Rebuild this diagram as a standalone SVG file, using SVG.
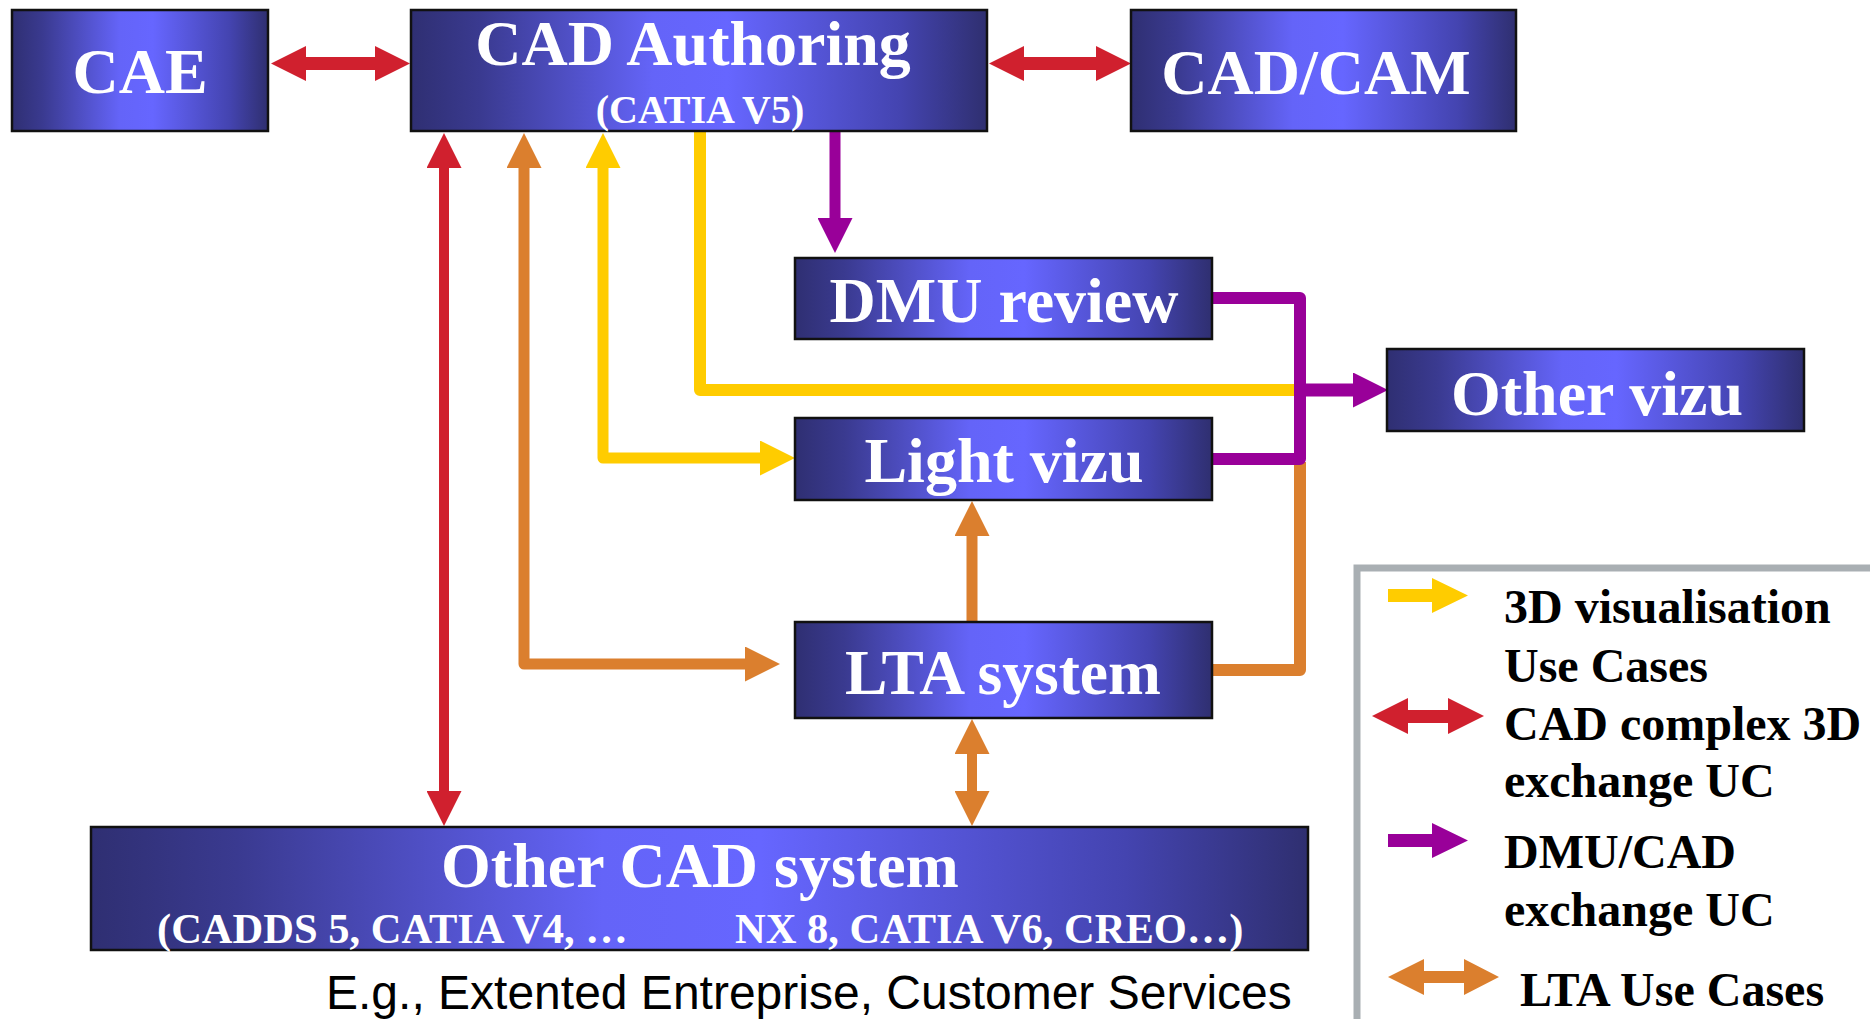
<svg xmlns="http://www.w3.org/2000/svg" width="1870" height="1019" viewBox="0 0 1870 1019">
<defs>
<linearGradient id="boxg" x1="0" y1="0" x2="1" y2="0">
<stop offset="0" stop-color="#2f2f72"/>
<stop offset="0.12" stop-color="#3a3a90"/>
<stop offset="0.42" stop-color="#6464f8"/>
<stop offset="0.55" stop-color="#6666ff"/>
<stop offset="0.85" stop-color="#4444b0"/>
<stop offset="1" stop-color="#2f2f70"/>
</linearGradient>
<marker id="hr" markerUnits="userSpaceOnUse" markerWidth="35" markerHeight="35" viewBox="0 0 35 35" refX="0" refY="17.5" orient="auto-start-reverse"><path d="M0,0 L35,17.5 L0,35 z" fill="#d0202e"/></marker>
<marker id="ho" markerUnits="userSpaceOnUse" markerWidth="35" markerHeight="35" viewBox="0 0 35 35" refX="0" refY="17.5" orient="auto-start-reverse"><path d="M0,0 L35,17.5 L0,35 z" fill="#db7f2e"/></marker>
<marker id="hy" markerUnits="userSpaceOnUse" markerWidth="35" markerHeight="35" viewBox="0 0 35 35" refX="0" refY="17.5" orient="auto-start-reverse"><path d="M0,0 L35,17.5 L0,35 z" fill="#ffcc00"/></marker>
<marker id="hp" markerUnits="userSpaceOnUse" markerWidth="35" markerHeight="35" viewBox="0 0 35 35" refX="0" refY="17.5" orient="auto-start-reverse"><path d="M0,0 L35,17.5 L0,35 z" fill="#990099"/></marker>
</defs>
<style>
.box{fill:url(#boxg);stroke:#111;stroke-width:2.5}
.t{font-family:"Liberation Serif","Times New Roman",serif;font-weight:bold;fill:#fff;text-anchor:middle}
.ts{font-family:"Liberation Serif","Times New Roman",serif;font-weight:bold;fill:#fff;font-size:42.5px}
.lg{font-family:"Liberation Serif","Times New Roman",serif;font-weight:bold;fill:#000;font-size:48px}
.c{fill:none;stroke-linejoin:round}
.red{stroke:#d0202e}
.or{stroke:#db7f2e}
.ye{stroke:#ffcc00}
.pu{stroke:#990099}
</style>
<rect width="1870" height="1019" fill="#fff"/>

<g id="connectors">
<line class="c red" x1="306" y1="63.5" x2="375" y2="63.5" stroke-width="13" marker-start="url(#hr)" marker-end="url(#hr)"/>
<line class="c red" x1="1024" y1="63.5" x2="1096" y2="63.5" stroke-width="13" marker-start="url(#hr)" marker-end="url(#hr)"/>
<line class="c red" x1="444" y1="168" x2="444" y2="791" stroke-width="10" marker-start="url(#hr)" marker-end="url(#hr)"/>
<path class="c or" d="M524,168 V664 H745" stroke-width="11" marker-start="url(#ho)" marker-end="url(#ho)"/>
<path class="c ye" d="M603,168 V458 H760" stroke-width="11" marker-start="url(#hy)" marker-end="url(#hy)"/>
<path class="c ye" d="M700,131 V390 H1296" stroke-width="12" stroke-linejoin="miter"/>
<line class="c pu" x1="835" y1="131" x2="835" y2="218" stroke-width="11" marker-end="url(#hp)"/>
<path class="c or" d="M1212,670 H1300 V462" stroke-width="12" stroke-linejoin="miter"/>
<path class="c pu" d="M1212,298 H1300 V459 H1212" stroke-width="12" stroke-linejoin="miter"/>
<line class="c pu" x1="1300" y1="390" x2="1353" y2="390" stroke-width="13" marker-end="url(#hp)"/>
<line class="c or" x1="972" y1="622" x2="972" y2="536" stroke-width="11" marker-end="url(#ho)"/>
<line class="c or" x1="972" y1="754" x2="972" y2="791" stroke-width="10" marker-start="url(#ho)" marker-end="url(#ho)"/>
</g>

<g id="cae">
<rect class="box" x="12" y="10" width="256" height="121"/>
<text class="t" x="140" y="93" font-size="64">CAE</text>
</g>
<g id="cad-authoring">
<rect class="box" x="411" y="10" width="576" height="121"/>
<text class="t" x="693" y="65" font-size="64">CAD Authoring</text>
<text class="t" x="700" y="123" font-size="40">(CATIA V5)</text>
</g>
<g id="cad-cam">
<rect class="box" x="1131" y="10" width="385" height="121"/>
<text class="t" x="1316" y="94" font-size="64">CAD/CAM</text>
</g>
<g id="dmu-review">
<rect class="box" x="795" y="258" width="417" height="81"/>
<text class="t" x="1004" y="322" font-size="64">DMU review</text>
</g>
<g id="other-vizu">
<rect class="box" x="1387" y="349" width="417" height="82"/>
<text class="t" x="1597" y="415" font-size="64">Other vizu</text>
</g>
<g id="light-vizu">
<rect class="box" x="795" y="418" width="417" height="82"/>
<text class="t" x="1004" y="482" font-size="64">Light vizu</text>
</g>
<g id="lta-system">
<rect class="box" x="795" y="622" width="417" height="96"/>
<text class="t" x="1003" y="694" font-size="63.5">LTA system</text>
</g>
<g id="other-cad">
<rect class="box" x="91" y="827" width="1217" height="123"/>
<text class="t" x="700" y="887" font-size="64">Other CAD system</text>
<text class="ts" x="157" y="943">(CADDS 5, CATIA V4, …</text>
<text class="ts" x="735" y="943">NX 8, CATIA V6, CREO…)</text>
</g>
<g id="caption">
<text x="326" y="1009" font-family="'Liberation Sans',Arial,sans-serif" font-size="48" fill="#000">E.g., Extented Entreprise, Customer Services</text>
</g>

<g id="legend">
<path d="M1357,1019 V568 H1870" fill="none" stroke="#a9afb3" stroke-width="7"/>
<polygon points="1388,589 1432,589 1432,578 1468,595.5 1432,613 1432,602 1388,602" fill="#ffcc00"/>
<text class="lg" x="1504" y="623">3D visualisation</text>
<text class="lg" x="1504" y="682">Use Cases</text>
<polygon points="1372,716 1408,698 1408,710 1448,710 1448,698 1484,716 1448,734 1448,723 1408,723 1408,734" fill="#d0202e"/>
<text class="lg" x="1504" y="740">CAD complex 3D</text>
<text class="lg" x="1504" y="797">exchange UC</text>
<polygon points="1388,834 1432,834 1432,823 1468,840.5 1432,858 1432,847 1388,847" fill="#990099"/>
<text class="lg" x="1504" y="868">DMU/CAD</text>
<text class="lg" x="1504" y="926">exchange UC</text>
<polygon points="1388,977 1424,959 1424,971 1464,971 1464,959 1499,977 1464,995 1464,983 1424,983 1424,995" fill="#db7f2e"/>
<text class="lg" x="1520" y="1006">LTA Use Cases</text>
</g>
</svg>
